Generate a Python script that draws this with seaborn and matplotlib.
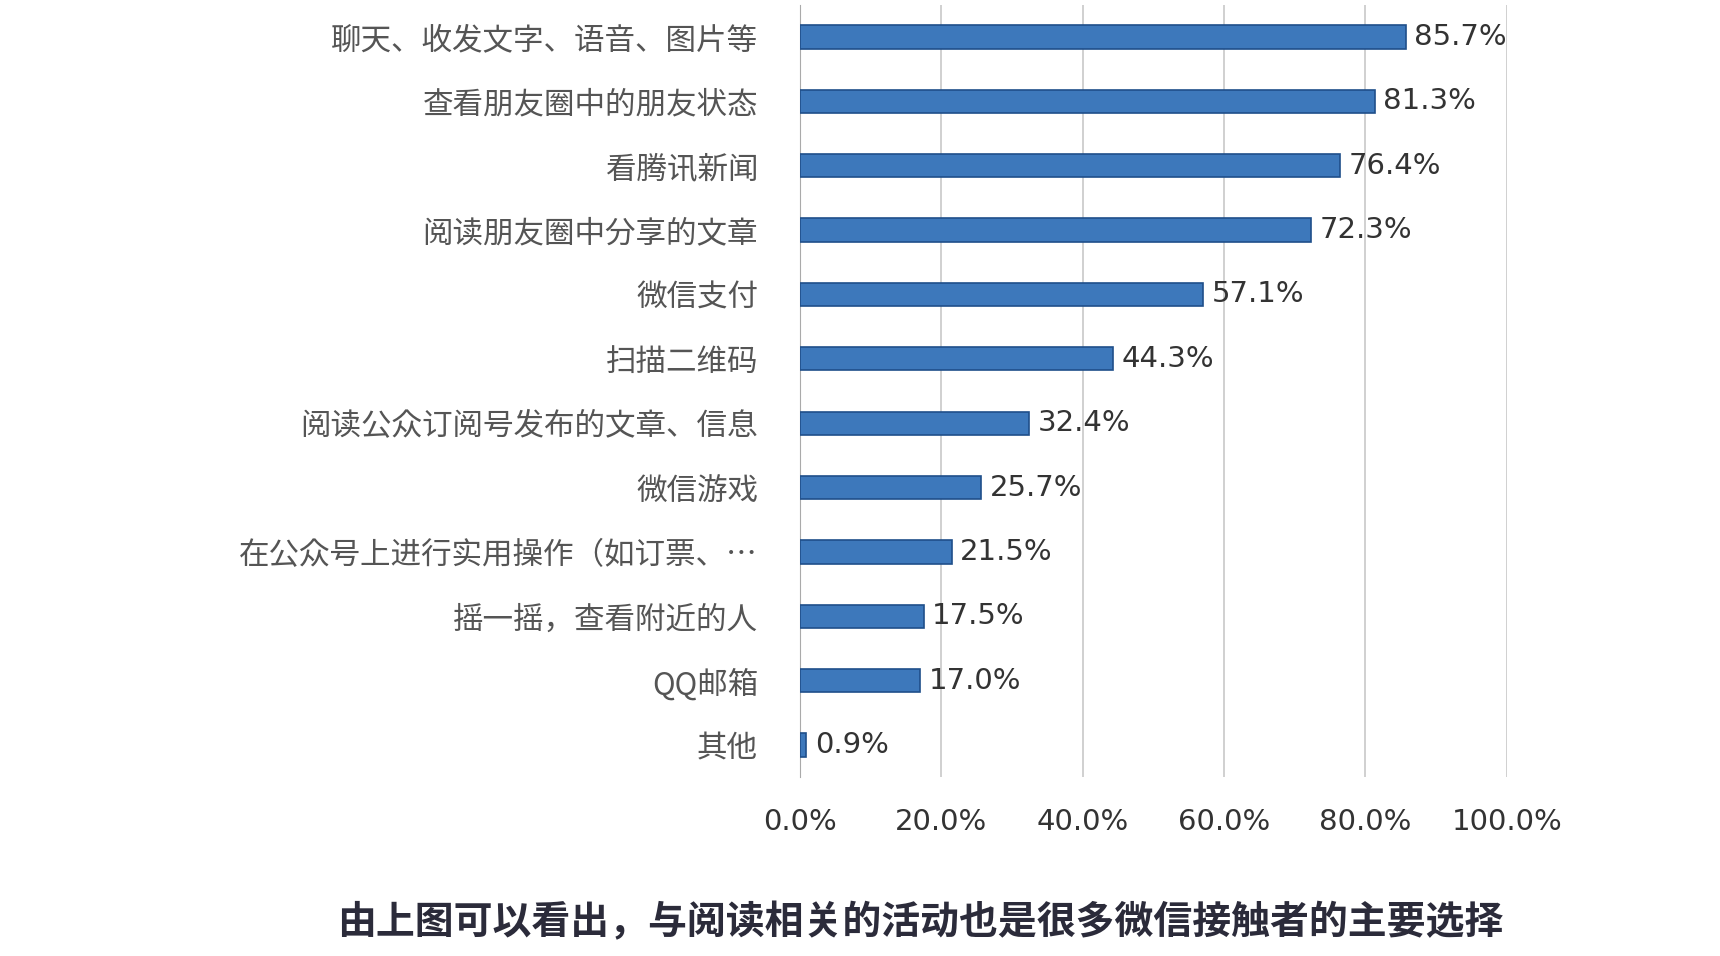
import matplotlib
matplotlib.use("Agg")
import matplotlib.pyplot as plt
from matplotlib import font_manager as fm
import seaborn as sns
import pandas as pd

categories = ["聊天、收发文字、语音、图片等", "查看朋友圈中的朋友状态", "看腾讯新闻",
              "阅读朋友圈中分享的文章", "微信支付", "扫描二维码",
              "阅读公众订阅号发布的文章、信息", "微信游戏",
              "在公众号上进行实用操作（如订票、…", "摇一摇，查看附近的人", "QQ邮箱", "其他"]
values = [85.7, 81.3, 76.4, 72.3, 57.1, 44.3, 32.4, 25.7, 21.5, 17.5, 17.0, 0.9]
xticks = [0, 20, 40, 60, 80, 100]
caption = "由上图可以看出，与阅读相关的活动也是很多微信接触者的主要选择"

cjk_files = [f for f in fm.findSystemFonts() if "CJK" in f or "cjk" in f.lower()]
cjk_files.sort(key=lambda f: (0 if "SC" in f or "Sans" in f else 1, "Bold" in f))
cjk_name = "Noto Sans CJK SC"
for f in cjk_files:
    try:
        fm.fontManager.addfont(f)
        cjk_name = fm.FontProperties(fname=f).get_name()
        break
    except Exception:
        pass
plt.rcParams["font.family"] = [cjk_name, "DejaVu Sans"]

df = pd.DataFrame({"cat": categories, "val": values})

fig = plt.figure(figsize=(17.2, 9.56), dpi=100)
fig.patch.set_facecolor("white")
ax = fig.add_axes([0.465, 0.187, 0.411, 0.808])
sns.barplot(data=df, x="val", y="cat", orient="h", color="#3d78bb", width=0.36,
            edgecolor="#1f4f8a", linewidth=1.2, saturation=1, ax=ax, zorder=3)
ax.set_xlim(0, 100)
ax.set_xticks(xticks)
ax.set_xticklabels([f"{t:.1f}%" for t in xticks], fontsize=21, color="#333333", family="DejaVu Sans")
ax.tick_params(axis="x", length=0, pad=22)
ax.tick_params(axis="y", length=0, pad=30, labelsize=22, labelcolor="#555555")
ax.set_xlabel(""); ax.set_ylabel("")
ax.grid(axis="x", color="#c8c8c8", linewidth=1.2, zorder=0)
for s in ["top", "right", "bottom"]:
    ax.spines[s].set_visible(False)
ax.spines["left"].set_color("#aaaaaa")
for i, v in enumerate(values):
    ax.text(v + 1.2, i, f"{v:.1f}%", va="center", ha="left", fontsize=21,
            color="#333333", family="DejaVu Sans")
fig.text(0.535, 0.035, caption, ha="center", va="center", fontsize=28,
         color="#2b2b3a", fontweight="bold")
fig.savefig("out.png", dpi=100)
